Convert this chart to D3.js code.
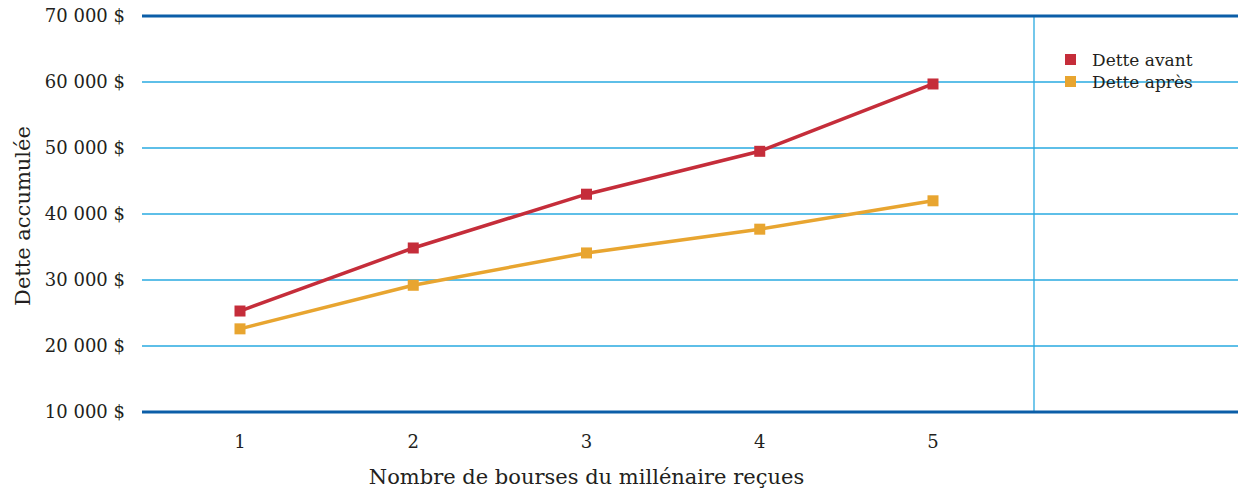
<!DOCTYPE html>
<html>
<head>
<meta charset="utf-8">
<script src="https://cdn.jsdelivr.net/npm/d3@7"></script>
<style>
  body { margin: 0; background: #fff; }
  svg text { font-family: "DejaVu Serif", "Liberation Serif", serif; fill: #231f20; }
</style>
</head>
<body>
<div id="chart"></div>
<script>
const categories = [1, 2, 3, 4, 5];
const detteAvant = [25300, 34850, 43000, 49500, 59700];
const detteApres = [22600, 29200, 34100, 37700, 42000];
const yTicks = [10000, 20000, 30000, 40000, 50000, 60000, 70000];
const seriesNames = ['Dette avant', 'Dette après'];
const colors = ['#c52d3a', '#e8a530'];

const W = 1238, H = 493;
const svg = d3.select('#chart').append('svg').attr('width', W).attr('height', H);

const x = d3.scalePoint().domain(categories).range([240, 933]);
const y = d3.scaleLinear().domain([10000, 70000]).range([412, 16]);
const left = 142, right = W, divider = 1034;

const fmt = d => d3.format(',')(d).replace(/,/g, ' ') + ' $';

// gridlines
svg.append('g')
  .selectAll('line')
  .data(yTicks.slice(1, -1))
  .join('line')
  .attr('x1', left).attr('x2', right)
  .attr('y1', d => y(d)).attr('y2', d => y(d))
  .attr('stroke', '#29aae1').attr('stroke-width', 1.3);

// vertical divider
svg.append('line')
  .attr('x1', divider).attr('x2', divider)
  .attr('y1', y(70000)).attr('y2', y(10000))
  .attr('stroke', '#29aae1').attr('stroke-width', 1.3);

// top and bottom rules
svg.append('g')
  .selectAll('line')
  .data([10000, 70000])
  .join('line')
  .attr('x1', left).attr('x2', right)
  .attr('y1', d => y(d)).attr('y2', d => y(d))
  .attr('stroke', '#0b5ea8').attr('stroke-width', 3);

// y tick labels
svg.append('g')
  .selectAll('text')
  .data(yTicks)
  .join('text')
  .attr('x', 125).attr('y', d => y(d))
  .attr('dy', '0.35em')
  .attr('text-anchor', 'end')
  .attr('font-size', 18)
  .text(fmt);

// x tick labels
svg.append('g')
  .selectAll('text')
  .data(categories)
  .join('text')
  .attr('x', d => x(d)).attr('y', 448)
  .attr('text-anchor', 'middle')
  .attr('font-size', 18)
  .text(d => d);

// axis titles
svg.append('text')
  .attr('x', (x(1) + x(5)) / 2).attr('y', 484)
  .attr('text-anchor', 'middle')
  .attr('font-size', 21)
  .text('Nombre de bourses du millénaire reçues');

svg.append('text')
  .attr('transform', `translate(30,216) rotate(-90)`)
  .attr('text-anchor', 'middle')
  .attr('font-size', 21)
  .text('Dette accumulée');

// series
const series = [detteAvant, detteApres];
const line = d3.line().x((d, i) => x(categories[i])).y(d => y(d));

series.forEach((vals, k) => {
  svg.append('path')
    .datum(vals)
    .attr('fill', 'none')
    .attr('stroke', colors[k])
    .attr('stroke-width', 3.5)
    .attr('d', line);
  svg.append('g')
    .selectAll('rect')
    .data(vals)
    .join('rect')
    .attr('x', (d, i) => x(categories[i]) - 5.5)
    .attr('y', d => y(d) - 5.5)
    .attr('width', 11).attr('height', 11)
    .attr('fill', colors[k]);
});

// legend
const legend = svg.append('g').attr('transform', 'translate(1065,54)');
seriesNames.forEach((name, k) => {
  legend.append('rect')
    .attr('x', 0).attr('y', k * 22)
    .attr('width', 11).attr('height', 11)
    .attr('fill', colors[k]);
  legend.append('text')
    .attr('x', 27).attr('y', k * 22 + 6.5)
    .attr('dy', '0.35em')
    .attr('font-size', 17)
    .text(name);
});
</script>
</body>
</html>
